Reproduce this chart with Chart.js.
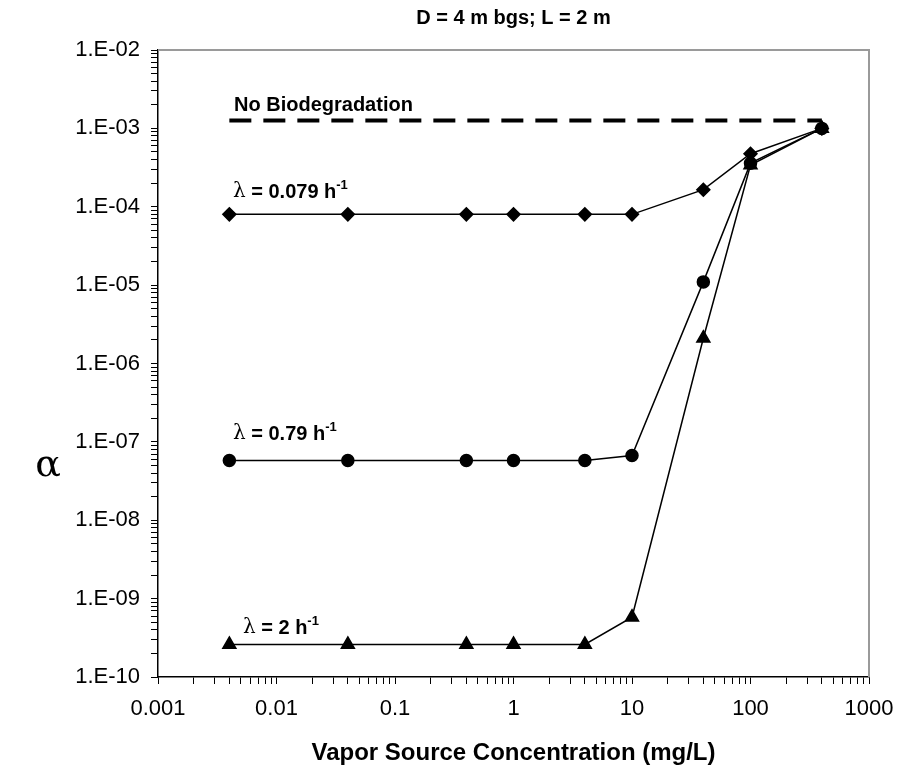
<!DOCTYPE html>
<html>
<head>
<meta charset="utf-8">
<script src="https://cdn.jsdelivr.net/npm/chart.js@4"></script>
<style>
  html, body { margin: 0; padding: 0; background: #fff; }
  #wrap { width: 899px; height: 772px; }
</style>
</head>
<body>
<div id="wrap"><canvas id="chart" width="899" height="772"></canvas></div>
<script>
// vapor source concentration (mg/L)
const conc = [0.004, 0.04, 0.4, 1, 4, 10, 40, 100, 400]
// alpha for each decay rate
const alphaLam0079 = [8.0e-5, 8.0e-5, 8.0e-5, 8.0e-5, 8.0e-5, 8.0e-5, 1.65e-4, 4.75e-4, 1.0e-3]
const alphaLam079 = [5.8e-8, 5.8e-8, 5.8e-8, 5.8e-8, 5.8e-8, 6.7e-8, 1.1e-5, 3.6e-4, 1.0e-3]
const alphaLam2 = [2.6e-10, 2.6e-10, 2.6e-10, 2.6e-10, 2.6e-10, 5.8e-10, 2.1e-6, 3.4e-4, 1.0e-3]
// no biodegradation reference line
const noBioX = [0.004, 400]
const noBioY = [1.26e-3, 1.26e-3]

const xTickDecades = [-3, -2, -1, 0, 1, 2, 3]
const yTickDecades = [-10, -9, -8, -7, -6, -5, -4, -3, -2]

function logTicks(decades) {
  var t = []
  decades.forEach((e, i) => {
    var n = i == decades.length - 1 ? 1 : 9
    for (let k = 1; k <= n; k++) {
      t.push({ value: parseFloat((k * Math.pow(10, e)).toPrecision(3)) })
    }
  })
  return t
}

function xLabel(v) {
  var e = Math.round(Math.log10(v))
  if (Math.abs(v - Math.pow(10, e)) > 1e-9 * Math.pow(10, e)) return ''
  return e < 0 ? v.toFixed(-e) : String(Math.round(v))
}

function yLabel(v) {
  var e = Math.round(Math.log10(v))
  if (Math.abs(v - Math.pow(10, e)) > 1e-6 * Math.pow(10, e)) return ''
  var s = e < 0 ? '-' : '+'
  var a = Math.abs(e)
  return '1.E' + s + (a < 10 ? '0' + a : a)
}

function pts(xs, ys) {
  return xs.map((x, i) => ({ x: x, y: ys[i] }))
}

const FONT = '"Liberation Sans", Arial, sans-serif'

// texts drawn on top of the chart
const annotate = {
  id: 'annotate',
  afterDraw(chart) {
    const ctx = chart.ctx
    const a = chart.chartArea
    ctx.save()
    // top and right frame
    ctx.strokeStyle = '#9a9a9a'
    ctx.lineWidth = 2
    ctx.beginPath()
    ctx.moveTo(a.left, a.top)
    ctx.lineTo(a.right, a.top)
    ctx.lineTo(a.right, a.bottom)
    ctx.stroke()

    ctx.fillStyle = '#000'
    ctx.textBaseline = 'middle'
    // title
    ctx.font = 'bold 20px ' + FONT
    ctx.textAlign = 'center'
    ctx.fillText('D = 4 m bgs; L = 2 m', (a.left + a.right) / 2, 18)
    // y title
    ctx.font = '38px "DejaVu Serif", serif'
    ctx.fillText('\u03b1', 48, 466)

    ctx.textAlign = 'left'
    ctx.font = 'bold 20px ' + FONT
    ctx.fillText('No Biodegradation', 234, 105)

    function lam(x, y, val) {
      ctx.font = '20px "DejaVu Serif", serif'
      ctx.fillText('\u03bb', x, y)
      x += ctx.measureText('\u03bb').width
      ctx.font = 'bold 20px ' + FONT
      var s = ' = ' + val + ' h'
      ctx.fillText(s, x, y)
      x += ctx.measureText(s).width
      ctx.font = 'bold 13px ' + FONT
      ctx.fillText('-1', x, y - 7)
    }
    lam(233, 192, '0.079')
    lam(233, 434, '0.79')
    lam(243, 628, '2')
    ctx.restore()
  }
}

const ctx = document.getElementById('chart').getContext('2d')
new Chart(ctx, {
  type: 'scatter',
  data: {
    datasets: [
      {
        label: 'No Biodegradation',
        data: pts(noBioX, noBioY),
        showLine: true,
        borderColor: '#000',
        borderWidth: 4,
        borderDash: [22, 12],
        pointRadius: 0,
      },
      {
        label: 'lambda = 0.079',
        data: pts(conc, alphaLam0079),
        showLine: true,
        borderColor: '#000',
        backgroundColor: '#000',
        borderWidth: 1.5,
        pointStyle: 'rectRot',
        pointRadius: 6.5,
      },
      {
        label: 'lambda = 0.79',
        data: pts(conc, alphaLam079),
        showLine: true,
        borderColor: '#000',
        backgroundColor: '#000',
        borderWidth: 1.5,
        pointStyle: 'circle',
        pointRadius: 6,
      },
      {
        label: 'lambda = 2',
        data: pts(conc, alphaLam2),
        showLine: true,
        borderColor: '#000',
        backgroundColor: '#000',
        borderWidth: 1.5,
        pointStyle: 'triangle',
        pointRadius: 7.5,
      },
    ],
  },
  options: {
    responsive: false,
    animation: false,
    layout: { padding: { left: 0, top: 50, right: 30, bottom: 0 } },
    plugins: {
      legend: { display: false },
      tooltip: { enabled: false },
    },
    scales: {
      x: {
        type: 'logarithmic',
        min: 0.001,
        max: 1000,
        afterBuildTicks: s => { s.ticks = logTicks(xTickDecades) },
        afterFit: s => { s.height = 95; s.paddingLeft = 0; s.paddingRight = 0 },
        grid: { drawOnChartArea: false, drawTicks: true, tickLength: 7, tickColor: '#000', tickWidth: 1 },
        border: { color: '#000', width: 1.5 },
        ticks: {
          autoSkip: false,
          maxRotation: 0,
          color: '#000',
          padding: 12,
          font: { family: FONT, size: 22 },
          callback: v => xLabel(v),
        },
        title: {
          display: true,
          text: 'Vapor Source Concentration (mg/L)',
          color: '#000',
          font: { family: FONT, size: 24, weight: 'bold' },
          padding: { top: 10 },
        },
      },
      y: {
        type: 'logarithmic',
        min: 1e-10,
        max: 1e-2,
        afterBuildTicks: s => { s.ticks = logTicks(yTickDecades) },
        afterFit: s => { s.width = 158; s.paddingTop = 0; s.paddingBottom = 0 },
        grid: { drawOnChartArea: false, drawTicks: true, tickLength: 7, tickColor: '#000', tickWidth: 1 },
        border: { color: '#000', width: 1.5 },
        ticks: {
          autoSkip: false,
          color: '#000',
          padding: 11,
          font: { family: FONT, size: 22 },
          callback: v => yLabel(v),
        },
      },
    },
  },
  plugins: [annotate],
})
</script>
</body>
</html>
